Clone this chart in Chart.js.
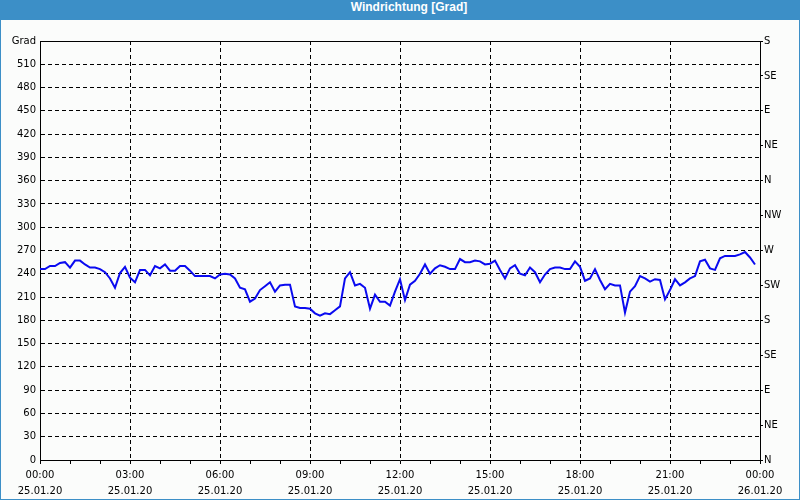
<!DOCTYPE html>
<html>
<head>
<meta charset="utf-8">
<script src="https://cdn.jsdelivr.net/npm/chart.js@4"></script>
<style>
    body { margin: 0; background: #fbfcfb; }
    #frame { position: relative; width: 800px; height: 500px; background: #3c8fc7; }
    #title {
        position: absolute; left: 18px; top: 0; width: 782px; height: 20px;
        line-height: 20px; text-align: center; color: #fff;
        font: bold 12px "Liberation Sans", sans-serif;
    }
    #plot { position: absolute; left: 1px; top: 20px; width: 798px; height: 479px; background: #fbfcfb; }
</style>
</head>
<body>
<div id="frame">
    <div id="title">Windrichtung [Grad]</div>
    <div id="plot"><canvas id="windChart" width="798" height="479"></canvas></div>
</div>
<script>
// wind direction in degrees, one reading every 10 minutes from 00:00 to 23:50
const dirValues = [
    246, 246, 250, 250, 254, 255, 248, 257, 257, 252, 248, 248,
    246, 242, 234, 222, 241, 249, 235, 229, 245, 245, 238, 250,
    247, 252, 244, 244, 250, 250, 244, 237, 237, 237, 237, 234,
    239, 240, 239, 234, 222, 220, 204, 208, 219, 224, 229, 217,
    225, 226, 226, 198, 196, 196, 195, 189, 186, 189, 188, 193,
    198, 234, 242, 225, 227, 222, 195, 213, 204, 204, 199, 217,
    233, 206, 226, 231, 240, 252, 240, 247, 251, 249, 246, 246,
    259, 255, 255, 257, 256, 252, 253, 257, 245, 234, 247, 251,
    240, 238, 248, 242, 229, 239, 246, 248, 248, 246, 246, 256,
    249, 231, 234, 246, 232, 220, 227, 225, 225, 190, 217, 224,
    237, 234, 230, 233, 232, 207, 219, 233, 225, 229, 234, 237,
    256, 258, 247, 245, 260, 263, 263, 263, 265, 268, 261, 252
];
const stepMinutes = 10;
const timeTicks = ['00:00', '03:00', '06:00', '09:00', '12:00', '15:00', '18:00', '21:00', '00:00'];
const dateTicks = ['25.01.20', '25.01.20', '25.01.20', '25.01.20', '25.01.20', '25.01.20', '25.01.20', '25.01.20', '26.01.20'];
const compassLabels = ['N', 'NE', 'E', 'SE', 'S', 'SW', 'W', 'NW', 'N', 'NE', 'E', 'SE', 'S'];

const points = dirValues.map((v, i) => ({ x: i * stepMinutes, y: v }));
const font = { family: '"DejaVu Sans", sans-serif', size: 10 };

new Chart(document.getElementById('windChart'), {
    type: 'line',
    data: {
        datasets: [{
            data: points,
            borderColor: '#0a0af0',
            borderWidth: 2,
            pointRadius: 0,
            tension: 0,
            yAxisID: 'y'
        }]
    },
    options: {
        responsive: false,
        animation: false,
        layout: { padding: { top: 21, left: 0, right: 0, bottom: 0 } },
        plugins: { legend: { display: false }, tooltip: { enabled: false } },
        scales: {
            x: {
                type: 'linear', position: 'bottom', min: 0, max: 1440,
                afterFit: s => { s.height = 39; },
                ticks: {
                    stepSize: 60, autoSkip: false, maxRotation: 0, padding: 3,
                    color: '#000', font: { ...font, lineHeight: 1.6 },
                    callback: v => v % 180 === 0 ? [timeTicks[v / 180], dateTicks[v / 180]] : ''
                },
                grid: {
                    color: ctx => (ctx.tick && ctx.tick.value % 180 === 0 && ctx.tick.value > 0 && ctx.tick.value < 1440) ? '#000' : 'rgba(0,0,0,0)',
                    tickColor: '#000', tickLength: 4, lineWidth: 1
                },
                border: { color: '#000', width: 1, dash: [4, 3] }
            },
            xTop: {
                type: 'linear', position: 'top', min: 0, max: 1440,
                afterFit: s => { s.height = 0; },
                ticks: { display: false },
                grid: { display: false },
                border: { color: '#000', width: 1 }
            },
            y: {
                position: 'left', min: 0, max: 540,
                afterFit: s => { s.width = 39; },
                ticks: {
                    stepSize: 30, padding: 4, color: '#000', font: font,
                    callback: v => v === 540 ? 'Grad' : v
                },
                grid: {
                    color: ctx => (ctx.tick && ctx.tick.value > 0 && ctx.tick.value < 540) ? '#000' : 'rgba(0,0,0,0)',
                    drawTicks: false, lineWidth: 1
                },
                border: { color: '#000', width: 1, dash: [4, 3] }
            },
            y2: {
                position: 'right', min: 0, max: 540,
                afterFit: s => { s.width = 39; },
                ticks: {
                    stepSize: 45, padding: 1, color: '#000', font: font,
                    callback: v => compassLabels[v / 45]
                },
                grid: { drawOnChartArea: false, tickColor: '#000', tickLength: 3 },
                border: { color: '#000', width: 1 }
            }
        }
    }
});
</script>
</body>
</html>
